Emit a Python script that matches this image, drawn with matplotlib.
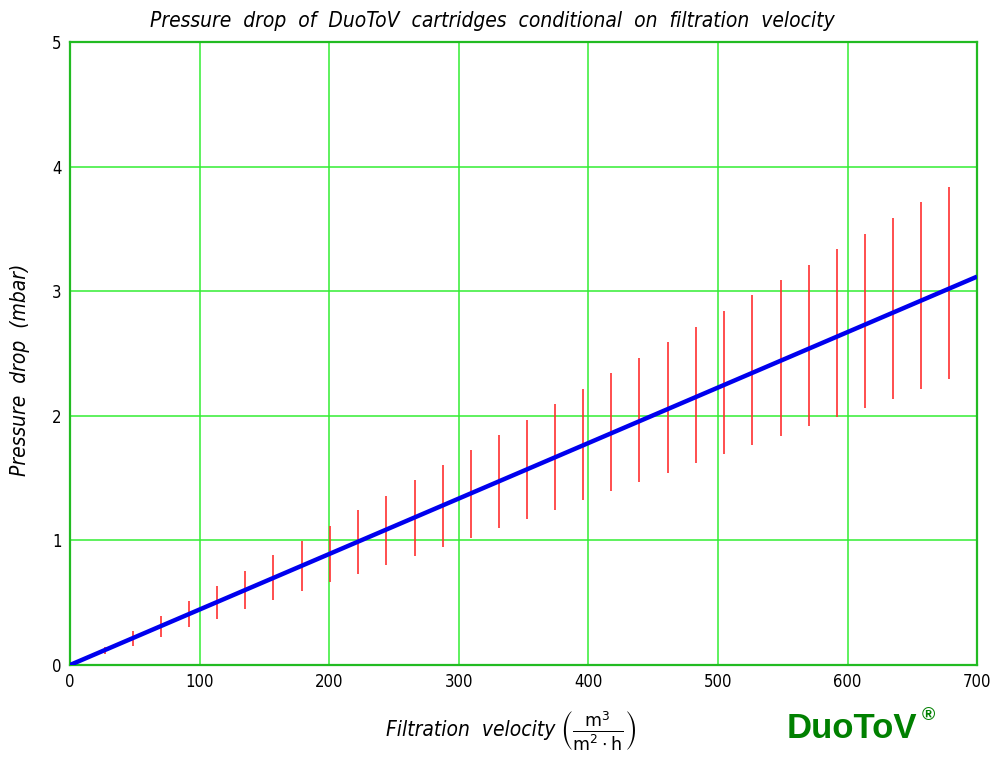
import matplotlib
matplotlib.use("Agg")
import matplotlib.pyplot as plt

# Mittellinie
velocity = [0, 700]
pressure = [0, 3.117]

# Streubereich (gelesen aus dem Bild)
bar_x = [27, 48.6, 70.2, 92, 113.7, 135.3, 157, 178.8, 200.8, 222.3, 244.1, 266,
         287.6, 309.5, 331, 352.7, 374.3, 396.2, 417.8, 439.4, 461.3, 483.1, 504.7,
         526.6, 548.5, 570.1, 591.7, 613.6, 635.2, 657, 678.6]
bar_hi = [0.147, 0.273, 0.393, 0.514, 0.637, 0.757, 0.880, 0.995, 1.118, 1.241, 1.359, 1.482,
          1.602, 1.723, 1.843, 1.966, 2.092, 2.215, 2.341, 2.466, 2.592, 2.715, 2.841,
          2.967, 3.090, 3.213, 3.336, 3.459, 3.585, 3.716, 3.836]
bar_lo = [0.086, 0.155, 0.227, 0.302, 0.372, 0.447, 0.519, 0.591, 0.664, 0.733, 0.803, 0.877,
          0.950, 1.022, 1.097, 1.169, 1.244, 1.322, 1.394, 1.466, 1.541, 1.619, 1.691,
          1.768, 1.840, 1.916, 1.993, 2.065, 2.137, 2.218, 2.295]

x_ticks = [0, 100, 200, 300, 400, 500, 600, 700]
y_ticks = [0, 1, 2, 3, 4, 5]

fnt = "DejaVu Sans"
cond = dict(family=fnt, stretch="condensed", style="italic")

fig = plt.figure(figsize=(9.94, 7.62), dpi=100)
ax = fig.add_axes([0.0704, 0.1273, 0.9126, 0.8176])

ax.vlines(bar_x, bar_lo, bar_hi, colors="#ff3030", linewidth=1.2, zorder=3)
ax.plot(velocity, pressure, color="#0000ee", linewidth=3.2, zorder=4, solid_capstyle="butt")

ax.set_xlim(0, 700)
ax.set_ylim(0, 5)
ax.set_xticks(x_ticks)
ax.set_yticks(y_ticks)
ax.grid(True, color="#33ee33", linewidth=1.1)
ax.set_axisbelow(True)
ax.tick_params(length=0, pad=6, labelsize=12)
for lbl in ax.get_xticklabels() + ax.get_yticklabels():
    lbl.set_fontstretch("condensed")
for s in ax.spines.values():
    s.set_color("#22bb22")
    s.set_linewidth(1.6)

fig.text(0.495, 0.973, "Pressure  drop  of  DuoToV  cartridges  conditional  on  filtration  velocity",
         ha="center", va="center", fontsize=15, **cond)
fig.text(0.020, 0.515, "Pressure  drop  (mbar)", rotation=90, ha="center", va="center",
         fontsize=15, **cond)
fig.text(0.388, 0.042, "Filtration  velocity", ha="left", va="center",
         fontsize=15, **cond)
fig.text(0.563, 0.040, r"$\left(\frac{\mathrm{m}^3}{\mathrm{m}^2\cdot \mathrm{h}}\right)$",
         ha="left", va="center", fontsize=18)
fig.text(0.791, 0.044, "DuoToV", ha="left", va="center", fontsize=25,
         fontweight="bold", color="#008000", family="Liberation Sans")
fig.text(0.927, 0.061, "®", ha="left", va="center", fontsize=13,
         fontweight="bold", color="#008000", family="Liberation Sans")

fig.savefig("out.png", dpi=100, facecolor="white")
